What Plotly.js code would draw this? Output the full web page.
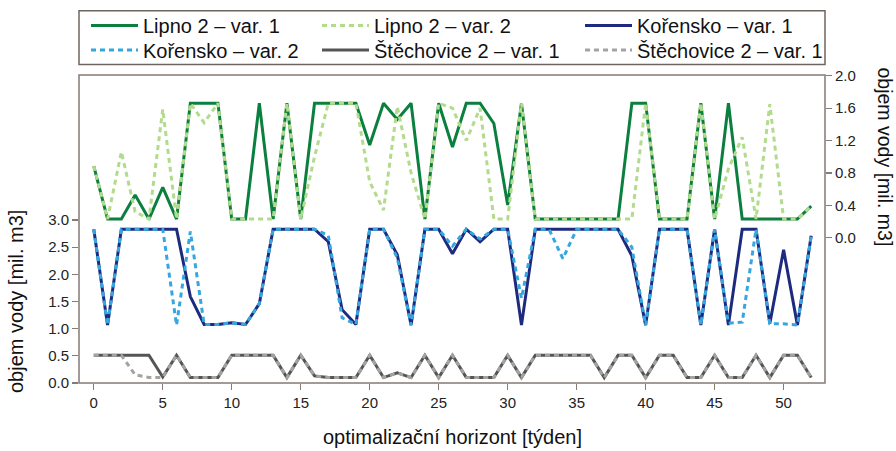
<!DOCTYPE html>
<html>
<head>
<meta charset="utf-8">
<script src="https://cdn.plot.ly/plotly-3.0.1.min.js"></script>
<style>html,body{margin:0;padding:0;background:#fff;}#chart{width:896px;height:451px;}</style>
</head>
<body>
<div id="chart"></div>
<script>
// ---- data ----
var weeks = [0,1,2,3,4,5,6,7,8,9,10,11,12,13,14,15,16,17,18,19,20,21,22,23,24,25,26,27,28,29,30,31,32,33,34,35,36,37,38,39,40,41,42,43,44,45,46,47,48,49,50,51,52];

var lipnoVar1 = [0.885,0.23,0.23,0.527,0.23,0.622,0.23,1.66,1.66,1.66,0.23,0.23,1.66,0.23,1.66,0.23,1.66,1.66,1.66,1.66,1.144,1.66,1.46,1.66,0.23,1.66,1.12,1.66,1.66,1.41,0.404,1.66,0.23,0.23,0.23,0.23,0.23,0.23,0.23,1.66,1.66,0.23,0.23,0.23,1.66,0.23,1.66,0.23,0.23,0.23,0.23,0.23,0.39];
var lipnoVar2 = [0.885,0.23,1.06,0.32,0.23,1.585,0.23,1.66,1.42,1.66,0.23,0.23,0.23,0.23,1.66,0.23,1.0,1.66,1.66,1.66,0.69,0.34,1.62,0.8,0.23,1.66,1.6,1.2,1.6,0.23,0.23,1.66,0.23,0.23,0.23,0.23,0.23,0.23,0.23,0.23,1.66,0.23,0.23,0.23,1.66,0.23,0.85,1.24,0.23,1.65,0.23,0.23,0.39];

var korenskoVar1 = [2.83,1.065,2.83,2.83,2.83,2.83,2.83,1.59,1.077,1.077,1.11,1.077,1.46,2.83,2.83,2.83,2.83,2.6,1.35,1.077,2.83,2.83,2.36,1.065,2.83,2.83,2.38,2.83,2.6,2.83,2.83,1.065,2.83,2.83,2.83,2.83,2.83,2.83,2.83,2.34,1.065,2.83,2.83,2.83,1.065,2.83,1.065,2.83,2.83,1.095,2.45,1.065,2.71];
var korenskoVar2 = [2.83,1.065,2.83,2.83,2.83,2.83,1.065,2.79,1.077,1.077,1.11,1.077,1.46,2.83,2.83,2.83,2.83,2.72,1.2,1.077,2.83,2.83,2.3,1.065,2.83,2.83,2.52,2.83,2.65,2.83,2.83,1.56,2.83,2.83,2.29,2.83,2.83,2.83,2.83,2.5,1.065,2.83,2.83,2.83,1.065,2.83,1.1,1.12,2.83,1.09,1.09,1.065,2.71];

var stechoviceVar1 = [0.51,0.51,0.51,0.51,0.51,0.11,0.51,0.1,0.1,0.1,0.51,0.51,0.51,0.51,0.1,0.51,0.13,0.1,0.1,0.1,0.51,0.1,0.185,0.1,0.51,0.1,0.51,0.1,0.1,0.1,0.51,0.1,0.51,0.51,0.51,0.51,0.51,0.1,0.51,0.51,0.1,0.51,0.51,0.1,0.1,0.51,0.1,0.1,0.51,0.1,0.51,0.51,0.1];
var stechoviceVar2 = [0.51,0.51,0.51,0.15,0.1,0.1,0.51,0.1,0.1,0.1,0.51,0.51,0.51,0.51,0.1,0.51,0.13,0.1,0.1,0.1,0.51,0.1,0.185,0.1,0.51,0.1,0.51,0.1,0.1,0.1,0.51,0.1,0.51,0.51,0.51,0.51,0.51,0.1,0.51,0.51,0.1,0.51,0.51,0.1,0.1,0.51,0.1,0.1,0.51,0.1,0.51,0.51,0.1];

var seriesNames = ["Lipno 2 – var. 1","Lipno 2 – var. 2","Kořensko – var. 1","Kořensko – var. 2","Štěchovice 2 – var. 1","Štěchovice 2 – var. 1"];

var xTickVals = [0,5,10,15,20,25,30,35,40,45,50];
var leftTickVals = [0.0,0.5,1.0,1.5,2.0,2.5,3.0];
var rightTickVals = [0.0,0.4,0.8,1.2,1.6,2.0];

var xTitle = "optimalizační horizont [týden]";
var yTitle = "objem vody [mil. m3]";

// ---- drawing ----
var FONT = "Liberation Sans, Arial, Helvetica, sans-serif";
var DOT = "5px,4px";

function tr(y, name, color, dash, yaxis, legend) {
  return {x: weeks, y: y, name: name, type: "scatter", mode: "lines", xaxis: "x", yaxis: yaxis,
    legend: legend, line: {color: color, width: 3, dash: dash}, hoverinfo: "x+y+name"};
}

var data = [
  tr(lipnoVar1, seriesNames[0], "#0b7f3e", "solid", "y2", "legend"),
  tr(lipnoVar2, seriesNames[1], "#b2db8c", DOT, "y2", "legend2"),
  tr(korenskoVar1, seriesNames[2], "#1d2a7e", "solid", "y", "legend3"),
  tr(korenskoVar2, seriesNames[3], "#35a6e0", DOT, "y", "legend4"),
  tr(stechoviceVar1, seriesNames[4], "#555555", "solid", "y", "legend5"),
  tr(stechoviceVar2, seriesNames[5], "#a3a3a3", DOT, "y", "legend6")
];

// plot area in px: x 79..825, y 75..383
function px2x(p) { return (p - 79) / 746; }
function px2y(p) { return (383 - p) / 308; }

function leg(xpx, ypx) {
  return {x: px2x(xpx), y: px2y(ypx), xanchor: "left", yanchor: "middle", orientation: "v",
    bgcolor: "rgba(0,0,0,0)", borderwidth: 0, itemwidth: 47,
    font: {family: FONT, size: 20, color: "#111"}};
}

var axisColor = "#857a75";
var layout = {
  width: 896, height: 451,
  margin: {l: 79, r: 71, t: 75, b: 68, pad: 0, autoexpand: false},
  paper_bgcolor: "#ffffff", plot_bgcolor: "rgba(0,0,0,0)",
  font: {family: FONT, size: 15, color: "#222"},
  showlegend: true,
  xaxis: {range: [-1.07, 53.0], tickvals: xTickVals, ticks: "outside", ticklen: 6, tickwidth: 1.2,
    tickcolor: axisColor, showgrid: false, zeroline: false, showline: false, anchor: "y",
    automargin: false, tickfont: {family: FONT, size: 15, color: "#222"}},
  yaxis: {domain: [0, 0.5292], range: [0, 3], tickvals: leftTickVals, tickformat: ".1f",
    ticks: "outside", ticklen: 6, tickwidth: 1.2, tickcolor: axisColor, showgrid: false,
    zeroline: false, showline: false, anchor: "x", automargin: false,
    tickfont: {family: FONT, size: 15, color: "#222"}},
  yaxis2: {domain: [0.4718, 1], range: [0, 2.009], side: "right", anchor: "x", tickvals: rightTickVals,
    tickformat: ".1f", ticks: "outside", ticklen: 6, tickwidth: 1.2, tickcolor: axisColor,
    showgrid: false, zeroline: false, showline: false, automargin: false,
    tickfont: {family: FONT, size: 15, color: "#222"}},
  legend: leg(86, 25.5),
  legend2: leg(317, 25.5),
  legend3: leg(580, 25.5),
  legend4: leg(86, 50),
  legend5: leg(317, 50),
  legend6: leg(580, 50),
  shapes: [
    {type: "rect", xref: "paper", yref: "paper", x0: 0, x1: 1, y0: 0, y1: 1,
      line: {color: axisColor, width: 1.5}, layer: "above"},
    {type: "rect", xref: "paper", yref: "paper", x0: 0, x1: 1, y0: px2y(64.5), y1: px2y(10.8),
      line: {color: "#6f6560", width: 1.5}}
  ],
  annotations: [
    {text: yTitle, xref: "paper", yref: "paper", x: px2x(16), y: px2y(302), textangle: -90,
      xanchor: "center", yanchor: "middle", showarrow: false, font: {family: FONT, size: 20, color: "#111"}},
    {text: yTitle, xref: "paper", yref: "paper", x: px2x(884.5), y: px2y(157), textangle: 90,
      xanchor: "center", yanchor: "middle", showarrow: false, font: {family: FONT, size: 19.5, color: "#111"}},
    {text: xTitle, xref: "paper", yref: "paper", x: 0.5, y: px2y(437),
      xanchor: "center", yanchor: "middle", showarrow: false, font: {family: FONT, size: 20, color: "#111"}}
  ]
};

Plotly.newPlot("chart", data, layout, {displayModeBar: false, staticPlot: true});
</script>
</body>
</html>
